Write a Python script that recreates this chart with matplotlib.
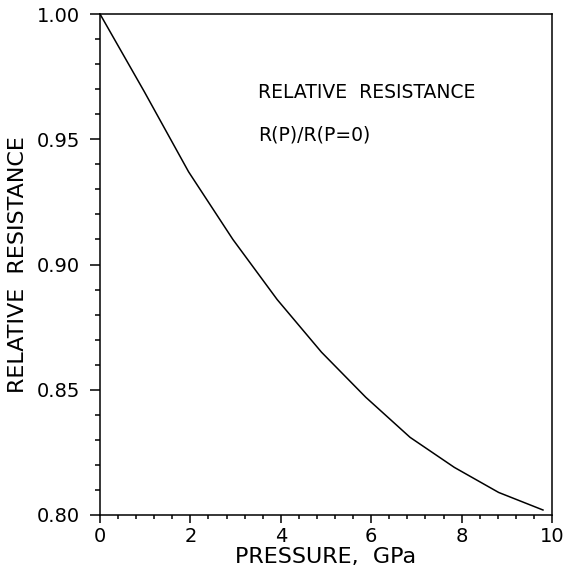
import numpy as np
import matplotlib
matplotlib.use("Agg")
import matplotlib.pyplot as plt
from matplotlib.ticker import MultipleLocator

# pressure (GPa) and relative resistance R(P)/R(P=0)
pressure = [0.0, 0.98, 1.96, 2.94, 3.92, 4.90, 5.88, 6.86, 7.84, 8.82, 9.80]
resistance = [1.000, 0.969, 0.937, 0.910, 0.886, 0.865, 0.847, 0.831, 0.819, 0.809, 0.802]

x_ticks = [0, 2, 4, 6, 8, 10]
y_ticks = [0.80, 0.85, 0.90, 0.95, 1.00]

fig = plt.figure(figsize=(5.65, 5.71), dpi=100)
ax = fig.add_axes([100/565, 1 - 515/571, 452/565, 501/571])

ax.plot(pressure, resistance, 'k-', lw=1.1)

ax.set_xlim(0, 10)
ax.set_ylim(0.80, 1.00)
ax.set_xticks(x_ticks)
ax.set_yticks(y_ticks)
ax.set_yticklabels(['%.2f' % v for v in y_ticks])
ax.xaxis.set_minor_locator(MultipleLocator(0.4))
ax.yaxis.set_minor_locator(MultipleLocator(0.01))
ax.tick_params(which='both', direction='out', width=1.1, top=False, right=False)
ax.tick_params(axis='x', which='major', length=5.5, labelsize=14, pad=3)
ax.tick_params(axis='x', which='minor', length=3)
ax.tick_params(axis='y', which='major', length=7.5, labelsize=14, pad=7)
ax.tick_params(axis='y', which='minor', length=3.8)
for s in ax.spines.values():
    s.set_linewidth(1.1)

ax.set_xlabel('PRESSURE,  GPa', fontsize=16, labelpad=1)
ax.set_ylabel('RELATIVE  RESISTANCE', fontsize=16, labelpad=6)

ax.text(0.35, 0.844, 'RELATIVE  RESISTANCE', transform=ax.transAxes, fontsize=13.5,
        va='center', ha='left')
ax.text(0.35, 0.758, 'R(P)/R(P=0)', transform=ax.transAxes, fontsize=13.5,
        va='center', ha='left')

fig.savefig('out.png', dpi=100)
